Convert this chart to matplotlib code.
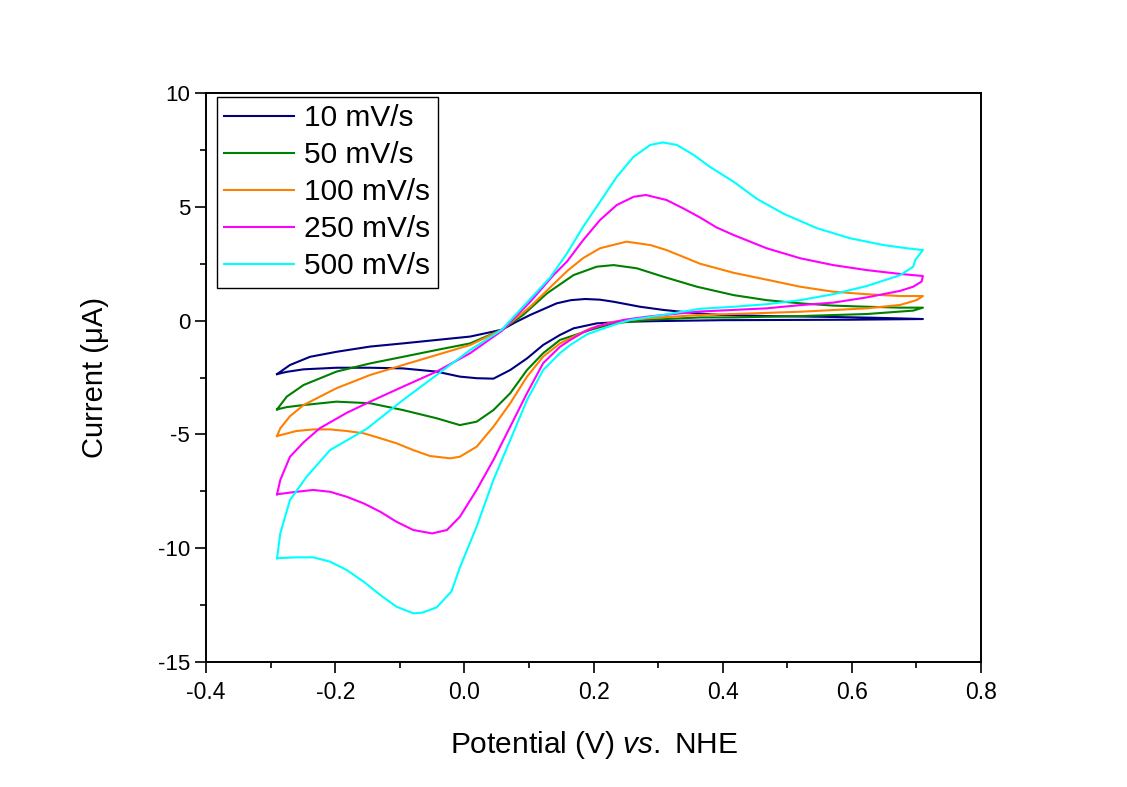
import numpy as np
import matplotlib
matplotlib.use('Agg')
import matplotlib.pyplot as plt
from matplotlib.ticker import MultipleLocator, FormatStrFormatter

# CV loops: forward scan (-0.29 -> 0.71 V) then reverse scan back
e_10 = [-0.29, -0.27, -0.239, -0.198, -0.146, -0.095, -0.043, 0.009, 0.058, 0.08, 0.102, 0.143, 0.165,
        0.187, 0.21, 0.231, 0.272, 0.308, 0.36, 0.396, 0.47, 0.55, 0.63, 0.71,
        0.6, 0.5, 0.4, 0.3, 0.25, 0.205, 0.169, 0.148, 0.122, 0.097, 0.071, 0.045, 0.019, -0.007,
        -0.043, -0.095, -0.146, -0.198, -0.249, -0.275, -0.29]
i_10 = [-2.35, -1.95, -1.59, -1.37, -1.14, -1.0, -0.85, -0.7, -0.4, -0.06, 0.25, 0.76, 0.9,
        0.95, 0.92, 0.83, 0.61, 0.47, 0.32, 0.25, 0.2, 0.17, 0.13, 0.07,
        0.04, 0.03, 0.02, -0.02, -0.05, -0.12, -0.34, -0.63, -1.07, -1.66, -2.17, -2.55, -2.53, -2.46,
        -2.24, -2.1, -2.07, -2.07, -2.14, -2.25, -2.35]

e_50 = [-0.29, -0.275, -0.249, -0.198, -0.146, -0.095, -0.043, 0.009, 0.058, 0.091, 0.128, 0.169, 0.205,
        0.231, 0.267, 0.308, 0.36, 0.417, 0.468, 0.52, 0.571, 0.623, 0.675, 0.71,
        0.695, 0.623, 0.52, 0.417, 0.365, 0.282, 0.231, 0.195, 0.148, 0.122, 0.097, 0.071, 0.045, 0.019,
        -0.007, -0.043, -0.095, -0.146, -0.198, -0.249, -0.275, -0.29]
i_50 = [-3.9, -3.34, -2.83, -2.24, -1.88, -1.59, -1.29, -1.0, -0.4, 0.25, 1.2, 2.0, 2.37,
        2.44, 2.3, 1.93, 1.49, 1.12, 0.9, 0.76, 0.66, 0.61, 0.57, 0.57,
        0.44, 0.29, 0.2, 0.14, 0.14, 0.03, -0.12, -0.41, -0.85, -1.43, -2.17, -3.19, -3.93, -4.44,
        -4.59, -4.29, -3.93, -3.63, -3.56, -3.71, -3.8, -3.9]

e_100 = [-0.29, -0.285, -0.27, -0.249, -0.198, -0.146, -0.095, -0.043, 0.009, 0.058, 0.102, 0.138, 0.16,
         0.184, 0.21, 0.251, 0.288, 0.313, 0.365, 0.417, 0.468, 0.52, 0.571, 0.623, 0.675, 0.71,
         0.7, 0.675, 0.623, 0.52, 0.417, 0.365, 0.282, 0.231, 0.195, 0.164, 0.148, 0.122, 0.097, 0.071,
         0.045, 0.019, -0.007, -0.022, -0.053, -0.079, -0.105, -0.13, -0.156, -0.182, -0.208, -0.234,
         -0.26, -0.29]
i_100 = [-5.07, -4.73, -4.2, -3.71, -2.97, -2.39, -1.95, -1.51, -1.07, -0.4, 0.61, 1.6, 2.2,
         2.75, 3.18, 3.47, 3.32, 3.1, 2.5, 2.1, 1.8, 1.49, 1.27, 1.16, 1.08, 1.08,
         0.9, 0.69, 0.54, 0.39, 0.29, 0.25, 0.1, -0.05, -0.34, -0.78, -1.0, -1.58, -2.46, -3.63,
         -4.66, -5.54, -5.98, -6.05, -5.95, -5.69, -5.39, -5.17, -4.95, -4.85, -4.78, -4.78,
         -4.85, -5.07]

e_250 = [-0.29, -0.285, -0.27, -0.249, -0.224, -0.182, -0.146, -0.095, -0.043, 0.009, 0.058, 0.102, 0.138,
         0.159, 0.184, 0.21, 0.236, 0.262, 0.281, 0.313, 0.339, 0.365, 0.39, 0.417, 0.468, 0.52, 0.571,
         0.623, 0.675, 0.71,
         0.708, 0.695, 0.675, 0.623, 0.571, 0.52, 0.468, 0.417, 0.365, 0.334, 0.282, 0.246, 0.205, 0.185,
         0.164, 0.148, 0.122, 0.097, 0.071, 0.045, 0.019, -0.007, -0.027, -0.05, -0.079, -0.105, -0.13,
         -0.156, -0.182, -0.208, -0.234, -0.26, -0.29]
i_250 = [-7.63, -7.0, -5.98, -5.35, -4.73, -4.05, -3.56, -2.9, -2.24, -1.43, -0.45, 0.83, 2.0,
         2.6, 3.54, 4.42, 5.08, 5.44, 5.52, 5.3, 4.93, 4.53, 4.1, 3.76, 3.18, 2.74, 2.44,
         2.22, 2.05, 1.96,
         1.72, 1.49, 1.31, 1.02, 0.79, 0.68, 0.54, 0.47, 0.4, 0.32, 0.17, 0.03, -0.26, -0.5,
         -0.85, -1.15, -1.87, -3.19, -4.66, -6.12, -7.44, -8.62, -9.2, -9.35, -9.2, -8.84, -8.4,
         -8.03, -7.74, -7.52, -7.44, -7.52, -7.63]

e_500 = [-0.29, -0.285, -0.27, -0.244, -0.208, -0.151, -0.095, -0.043, 0.009, 0.058, 0.097, 0.133, 0.159,
         0.184, 0.21, 0.236, 0.262, 0.288, 0.307, 0.329, 0.355, 0.38, 0.417, 0.453, 0.494, 0.546, 0.597,
         0.649, 0.685, 0.71,
         0.698, 0.695, 0.675, 0.623, 0.571, 0.52, 0.468, 0.417, 0.365, 0.308, 0.257, 0.231, 0.19, 0.164,
         0.148, 0.122, 0.097, 0.071, 0.045, 0.019, -0.007, -0.02, -0.043, -0.065, -0.079, -0.105, -0.13,
         -0.156, -0.182, -0.208, -0.234, -0.26, -0.29]
i_500 = [-10.44, -9.35, -7.88, -6.85, -5.69, -4.75, -3.49, -2.39, -1.29, -0.4, 0.8, 1.9, 2.96,
         4.13, 5.22, 6.32, 7.2, 7.72, 7.83, 7.72, 7.28, 6.76, 6.1, 5.35, 4.7, 4.06, 3.62,
         3.32, 3.18, 3.1,
         2.66, 2.37, 2.0, 1.52, 1.16, 0.9, 0.72, 0.61, 0.52, 0.25, 0.03, -0.19, -0.6, -1.07,
         -1.43, -2.17, -3.49, -5.25, -7.0, -9.05, -10.85, -11.9, -12.6, -12.83, -12.86, -12.57, -12.06,
         -11.47, -10.96, -10.59, -10.4, -10.4, -10.44]

labels = ['10 mV/s', '50 mV/s', '100 mV/s', '250 mV/s', '500 mV/s']
colors = ['#000080', '#008000', '#FF8000', '#FF00FF', '#00FFFF']

plt.rcParams['font.family'] = ['Liberation Sans', 'DejaVu Sans']
plt.rcParams['axes.unicode_minus'] = False
plt.rcParams['mathtext.fontset'] = 'custom'
plt.rcParams['mathtext.rm'] = 'Liberation Sans'
plt.rcParams['mathtext.it'] = 'Liberation Sans:italic'

fig = plt.figure(figsize=(11.27, 7.87), dpi=100)
ax = fig.add_axes([0.1828, 0.1588, 0.6877, 0.723])

curves = [(e_10, i_10), (e_50, i_50), (e_100, i_100), (e_250, i_250), (e_500, i_500)]
for (e, i), lab, c in zip(curves, labels, colors):
    ax.plot(e, i, color=c, lw=1.5, label=lab)

ax.set_xlim(-0.4, 0.8)
ax.set_ylim(-15, 10)
ax.xaxis.set_major_locator(MultipleLocator(0.2))
ax.xaxis.set_minor_locator(MultipleLocator(0.1))
ax.xaxis.set_major_formatter(FormatStrFormatter('%.1f'))
ax.yaxis.set_major_locator(MultipleLocator(5))
ax.yaxis.set_minor_locator(MultipleLocator(2.5))
ax.tick_params(which='major', direction='out', length=8, width=1.2, labelsize=16)
ax.tick_params(which='minor', direction='out', length=4.5, width=1.2)
ax.tick_params(axis='x', pad=6, labelsize=16.5)
for s in ax.spines.values():
    s.set_linewidth(1.4)

ax.set_xlabel(r'Potential (V) $\mathit{vs.}$ NHE', fontsize=21.5, labelpad=18)
ax.set_ylabel('Current (μA)', fontsize=21, labelpad=35)

leg = ax.legend(loc='upper left', bbox_to_anchor=(0.0142, 0.993), borderaxespad=0,
                fontsize=21.5, handlelength=2.34, handletextpad=0.33, labelspacing=0.3,
                borderpad=0.25, fancybox=False, framealpha=1, edgecolor='black')
leg.get_frame().set_linewidth(1.0)

fig.savefig('out.png', dpi=100)
